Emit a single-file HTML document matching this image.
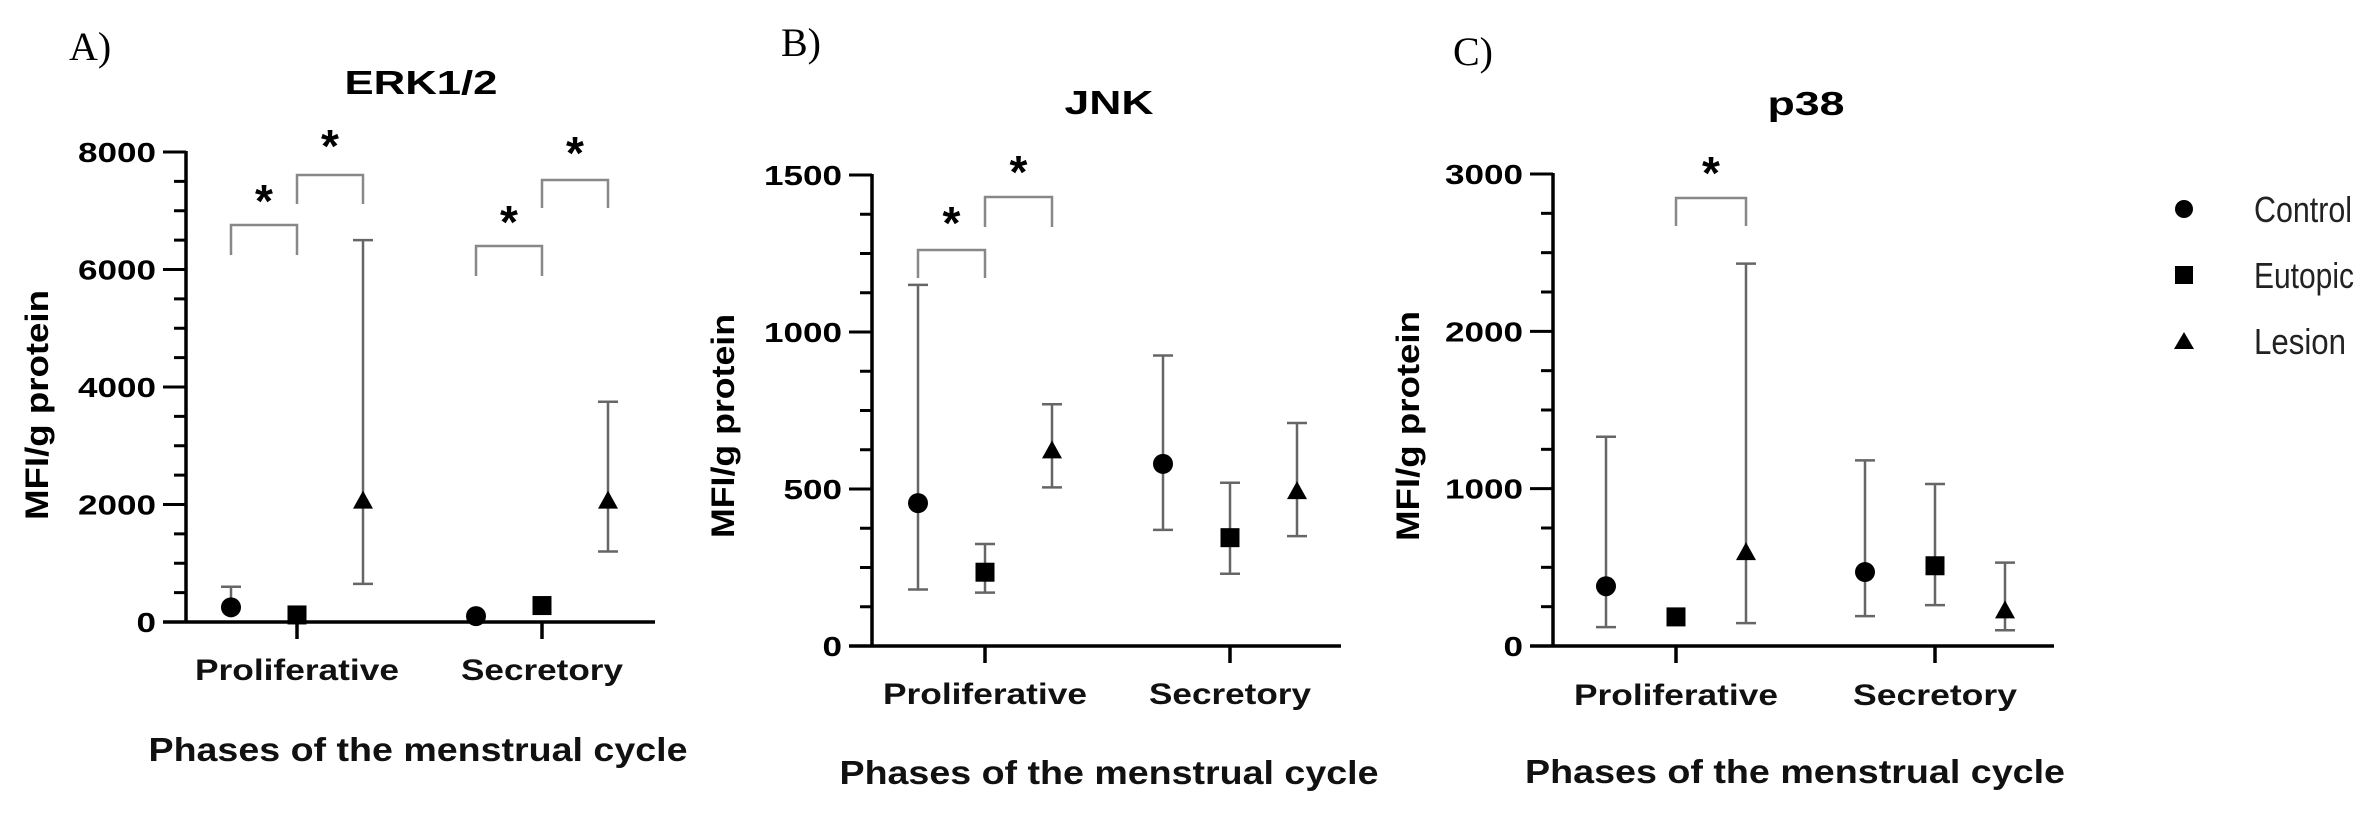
<!DOCTYPE html>
<html><head><meta charset="utf-8"><style>
html,body{margin:0;padding:0;background:#fff;}
svg{display:block;font-family:"Liberation Sans",Arial,sans-serif;}
</style></head><body>
<svg id="fig" width="2355" height="814" viewBox="0 0 2355 814" xmlns="http://www.w3.org/2000/svg">
<g id="legend">
  <circle cx="2184" cy="209" r="9" fill="#000"/>
  <text x="2254" y="222" font-size="36" fill="#222" textLength="98" lengthAdjust="spacingAndGlyphs">Control</text>
  <rect x="2175" y="266" width="18" height="18" fill="#000"/>
  <text x="2254" y="288" font-size="36" fill="#222" textLength="100" lengthAdjust="spacingAndGlyphs">Eutopic</text>
  <polygon points="2184,332 2194,349 2174,349" fill="#000"/>
  <text x="2254" y="354" font-size="36" fill="#222" textLength="92" lengthAdjust="spacingAndGlyphs">Lesion</text>
</g>
</svg>
<script>
// ---- data ----
const categories = ["Proliferative", "Secretory"];
const seriesNames = ["Control", "Eutopic", "Lesion"];
// ERK1/2
const erkMean = [[250, 120, 2050], [100, 280, 2050]];
const erkLow  = [[null, null, 650], [null, null, 1200]];
const erkHigh = [[600, null, 6500], [null, null, 3750]];
const erkTicks = [0, 2000, 4000, 6000, 8000];
// JNK
const jnkMean = [[455, 235, 620], [580, 345, 490]];
const jnkLow  = [[180, 170, 505], [370, 230, 350]];
const jnkHigh = [[1150, 325, 770], [925, 520, 710]];
const jnkTicks = [0, 500, 1000, 1500];
// p38
const p38Mean = [[380, 185, 590], [470, 510, 220]];
const p38Low  = [[120, null, 145], [190, 260, 100]];
const p38High = [[1330, null, 2430], [1180, 1030, 530]];
const p38Ticks = [0, 1000, 2000, 3000];

const NS = "http://www.w3.org/2000/svg";
const svg = document.getElementById("fig");
function mk(tag, attrs, parent, text) {
  const e = document.createElementNS(NS, tag);
  for (const k in attrs) e.setAttribute(k, attrs[k]);
  if (text !== undefined) e.textContent = text;
  (parent || svg).appendChild(e);
  return e;
}

const panels = [
  {key:"erk", letter:"A)", lx:69, ly:60, title:"ERK1/2", titleW:153, tx:421, ty:94,
   ax:186, xEnd:655, y0:622, yTop:152, max:8000, minor:500, ticks:erkTicks,
   cats:[297,542], off:66, catY:680, catW:[204,162], xtY:761, xtX:418, xtW:539, ytX:48, ytY:405, ytW:230,
   mean:erkMean, low:erkLow, high:erkHigh,
   brackets:[[0,0,0,1,225,255,195],[0,1,0,2,175,204,140],[1,0,1,1,246,276,216],[1,1,1,2,180,208,147]]},
  {key:"jnk", letter:"B)", lx:781, ly:56, title:"JNK", titleW:89, tx:1109, ty:114,
   ax:872, xEnd:1341, y0:646, yTop:175, max:1500, minor:125, ticks:jnkTicks,
   cats:[985,1230], off:67, catY:704, catW:[204,162], xtY:784, xtX:1109, xtW:539, ytX:734, ytY:426, ytW:224,
   mean:jnkMean, low:jnkLow, high:jnkHigh,
   brackets:[[0,0,0,1,250,278,217],[0,1,0,2,197,227,166]]},
  {key:"p38", letter:"C)", lx:1453, ly:65, title:"p38", titleW:77, tx:1806, ty:115,
   ax:1553, xEnd:2054, y0:646, yTop:174, max:3000, minor:250, ticks:p38Ticks,
   cats:[1676,1935], off:70, catY:705, catW:[204,164], xtY:783, xtX:1795, xtW:540, ytX:1419, ytY:426, ytW:230,
   mean:p38Mean, low:p38Low, high:p38High,
   brackets:[[0,1,0,2,198,226,167]]}
];

panels.forEach(p => {
  const g = mk("g", {});
  
  
  const Y = v => p.y0 - (v / p.max) * (p.y0 - p.yTop);
  const X = (c, s) => p.cats[c] + (s - 1) * p.off;

  const lt = mk("text", {x:p.lx, y:p.ly, "font-size":40, "font-family":"Liberation Serif, serif", fill:"#000"}, g, p.letter);
  
  
  const tt = mk("text", {x:p.tx, y:p.ty, "font-size":33, "font-weight":"bold", "text-anchor":"middle", textLength:p.titleW, lengthAdjust:"spacingAndGlyphs"}, g, p.title);
  
  

  const ya = mk("line", {x1:p.ax, y1:p.yTop - 1, x2:p.ax, y2:p.y0 + 1.5, stroke:"#000", "stroke-width":3.5}, g);
  
  
  for (let v = 0; v <= p.max + 1e-6; v += p.minor) {
    const major = p.ticks.indexOf(v) >= 0;
    const tk = mk("line", {x1:p.ax - (major ? 23 : 12), y1:Y(v), x2:p.ax, y2:Y(v), stroke:"#000", "stroke-width":3}, g);
    
    
  }
  p.ticks.forEach(v => {
    const s = String(v);
    const t = mk("text", {x:p.ax - 30, y:Y(v) + 10, "font-size":28, "font-weight":"bold", "text-anchor":"end", textLength:s.length * 19.5, lengthAdjust:"spacingAndGlyphs"}, g, s);
    
    
  });
  const yt = mk("text", {x:p.ytX, y:p.ytY, "font-size":32, "font-weight":"bold", "text-anchor":"middle", transform:`rotate(-90 ${p.ytX} ${p.ytY})`, textLength:p.ytW, lengthAdjust:"spacingAndGlyphs"}, g, "MFI/g protein");
  
  

  const xa = mk("line", {x1:p.ax - 23, y1:p.y0, x2:p.xEnd, y2:p.y0, stroke:"#000", "stroke-width":3.5}, g);
  
  
  categories.forEach((c, i) => {
    const tk = mk("line", {x1:p.cats[i], y1:p.y0, x2:p.cats[i], y2:p.y0 + 17, stroke:"#000", "stroke-width":3.5}, g);
    
    
    const t = mk("text", {x:p.cats[i], y:p.catY, "font-size":30, "font-weight":"bold", "text-anchor":"middle", textLength:p.catW[i], lengthAdjust:"spacingAndGlyphs", fill:"#111"}, g, c);
    
    
  });
  const xt = mk("text", {x:p.xtX, y:p.xtY, "font-size":33, "font-weight":"bold", "text-anchor":"middle", textLength:p.xtW, lengthAdjust:"spacingAndGlyphs", fill:"#111"}, g, "Phases of the menstrual cycle");
  
  

  categories.forEach((c, ci) => {
    seriesNames.forEach((s, si) => {
      const x = X(ci, si), m = p.mean[ci][si];
      const lo = p.low[ci][si], hi = p.high[ci][si];
      const top = hi == null ? m : hi, bot = lo == null ? m : lo;
      if (top !== bot) {
        const eb = mk("line", {x1:x, y1:Y(top), x2:x, y2:Y(bot), stroke:"#666", "stroke-width":2.5}, g);
        
        
      }
      [hi, lo].forEach(v => {
        if (v == null) return;
        const cap = mk("line", {x1:x - 10, y1:Y(v), x2:x + 10, y2:Y(v), stroke:"#666", "stroke-width":2.5}, g);
        
        
      });
      const y = Y(m);
      let mark;
      if (si === 0) mark = mk("circle", {cx:x, cy:y, r:10, fill:"#000"}, g);
      else if (si === 1) mark = mk("rect", {x:x - 9.5, y:y - 9.5, width:19, height:19, fill:"#000"}, g);
      else mark = mk("polygon", {points:`${x},${y - 11} ${x + 10},${y + 7} ${x - 10},${y + 7}`, fill:"#000"}, g);
      
      
    });
  });

  p.brackets.forEach(b => {
    const x1 = X(b[0], b[1]), x2 = X(b[2], b[3]);
    const br = mk("path", {d:`M${x1},${b[5]} V${b[4]} H${x2} V${b[5]}`, fill:"none", stroke:"#888", "stroke-width":2.5}, g);
    
    
    const st = mk("text", {x:(x1 + x2) / 2, y:b[6] + 22, "font-size":46, "font-weight":"bold", "text-anchor":"middle"}, g, "*");
    
    
  });
});
</script>
</body></html>
